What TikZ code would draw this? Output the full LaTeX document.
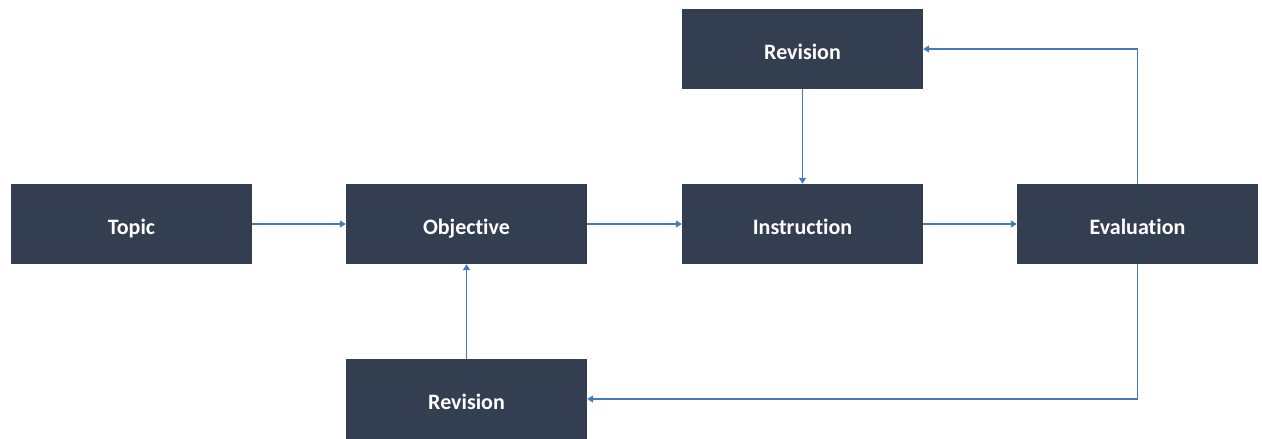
\documentclass[tikz,border=0pt]{standalone}
\usepackage{fontspec}
\setmainfont{Carlito}[Ligatures=NoCommon]
\usetikzlibrary{arrows.meta}
\definecolor{boxc}{RGB}{51,63,80}
\definecolor{arrc}{RGB}{70,122,192}
\begin{document}
\begin{tikzpicture}[x=1pt,y=1pt,
  blk/.style={fill=boxc, draw=none, minimum width=241pt, minimum height=80pt, inner sep=0pt,
    text height=22pt, text depth=1pt,
    text=white, font=\fontsize{22}{26}\selectfont\bfseries},
  conn/.style={draw=arrc, line width=1.6pt, -{Triangle[length=6pt,width=7pt]}}]
\useasboundingbox (0,0) rectangle (1262,439);
\node[blk] (topic) at (131.5,215) {Topic};
\node[blk] (obj) at (466.5,215) {Objective};
\node[blk] (ins) at (802.5,215) {Instruction};
\node[blk] (eva) at (1137.5,215) {Evaluation};
\node[blk] (rev1) at (802.5,390) {Revision};
\node[blk] (rev2) at (466.5,40) {Revision};
\draw[conn] (topic) -- (obj);
\draw[conn] (obj) -- (ins);
\draw[conn] (ins) -- (eva);
\draw[conn] (rev1) -- (ins);
\draw[conn] (rev2) -- (obj);
\draw[conn] (eva.north) |- (rev1.east);
\draw[conn] (eva.south) |- (rev2.east);
\end{tikzpicture}
\end{document}
